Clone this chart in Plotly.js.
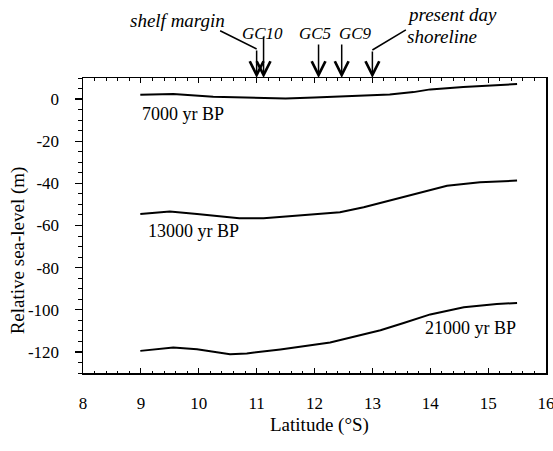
<!DOCTYPE html>
<html>
<head>
<meta charset="utf-8">
<script src="https://cdn.plot.ly/plotly-3.0.1.min.js"></script>
<style>html,body{margin:0;padding:0;background:#fff;}#chart{width:553px;height:451px;}</style>
</head>
<body>
<div id="chart"></div>
<script>
// Data
const lat7000 = [8.99, 9.56, 10.25, 11.1, 11.5, 12.0, 12.84, 13.3, 13.71, 14.0, 14.57, 15.0, 15.5];
const sl7000  = [2.0, 2.4, 1.1, 0.4, 0.3, 0.8, 1.6, 2.2, 3.3, 4.6, 5.7, 6.3, 7.1];
const lat13000 = [8.99, 9.5, 9.97, 10.48, 10.7, 11.12, 11.69, 12.44, 12.85, 13.42, 14.0, 14.29, 14.86, 15.5];
const sl13000  = [-54.5, -53.4, -54.5, -56.0, -56.5, -56.5, -55.3, -53.7, -51.3, -47.3, -43.4, -41.1, -39.5, -38.7];
const lat21000 = [8.99, 9.56, 9.97, 10.54, 10.83, 11.41, 12.27, 13.14, 13.54, 14.0, 14.58, 15.15, 15.5];
const sl21000  = [-119.5, -117.9, -118.7, -121.1, -120.7, -118.8, -115.5, -109.7, -106.3, -102.2, -98.8, -97.2, -96.8];
const seriesNames = ['7000 yr BP', '13000 yr BP', '21000 yr BP'];
const markerNames = ['shelf margin', 'GC10', 'GC5', 'GC9', 'present day', 'shoreline'];
const markerLat = [11.0, 11.12, 12.07, 12.47, 13.0];
const xTicks = [8, 9, 10, 11, 12, 13, 14, 15, 16];
const yTicks = [0, -20, -40, -60, -80, -100, -120];

const FONT = 'Liberation Serif';
const line = {color: '#000', width: 2};
const traces = [
  {x: lat7000, y: sl7000, mode: 'lines', line: line, name: seriesNames[0]},
  {x: lat13000, y: sl13000, mode: 'lines', line: line, name: seriesNames[1]},
  {x: lat21000, y: sl21000, mode: 'lines', line: line, name: seriesNames[2]}
];

const itFont = {family: FONT, size: 19, color: '#000', style: 'italic'};
const gcFont = {family: FONT, size: 17, color: '#000', style: 'italic'};
const upFont = {family: FONT, size: 18, color: '#000'};
const arrowBase = {xref: 'x', yref: 'y', y: 10, showarrow: true, arrowhead: 5, arrowwidth: 1.5, arrowsize: 1.8, arrowcolor: '#000', text: '', axref: 'pixel', ayref: 'pixel', ax: 0, standoff: 0, startstandoff: 0};
const segBase = {xref: 'x', yref: 'y', y: 10, showarrow: true, arrowhead: 0, arrowwidth: 1.5, arrowcolor: '#000', text: '', standoff: 0, startstandoff: 0};
const lab = {showarrow: false, xanchor: 'center', yanchor: 'middle'};

const annotations = [
  // arrows
  Object.assign({}, arrowBase, {x: markerLat[0], ay: -29}),
  Object.assign({}, segBase, {x: markerLat[0], yshift: 29, ax: -38, ay: -19}),
  Object.assign({}, arrowBase, {x: markerLat[1], ay: -43}),
  Object.assign({}, arrowBase, {x: markerLat[2], ay: -35}),
  Object.assign({}, arrowBase, {x: markerLat[3], ay: -35}),
  Object.assign({}, arrowBase, {x: markerLat[4], ay: -28}),
  Object.assign({}, segBase, {x: markerLat[4], yshift: 28, ax: 35, ay: -21}),
  // marker labels
  Object.assign({}, lab, {xref: 'x', yref: 'paper', x: 9.64, y: 1.195, text: markerNames[0], font: itFont}),
  Object.assign({}, lab, {xref: 'x', yref: 'paper', x: 11.11, y: 1.151, text: markerNames[1], font: gcFont}),
  Object.assign({}, lab, {xref: 'x', yref: 'paper', x: 12.0, y: 1.151, text: markerNames[2], font: gcFont}),
  Object.assign({}, lab, {xref: 'x', yref: 'paper', x: 12.7, y: 1.151, text: markerNames[3], font: gcFont}),
  Object.assign({}, lab, {xref: 'x', yref: 'paper', x: 14.37, y: 1.216, text: markerNames[4], font: itFont}),
  Object.assign({}, lab, {xref: 'x', yref: 'paper', x: 14.2, y: 1.139, text: markerNames[5], font: itFont}),
  // series labels
  Object.assign({}, lab, {xref: 'x', yref: 'y', x: 8.99, y: -7.0, xanchor: 'left', text: seriesNames[0], font: upFont}),
  Object.assign({}, lab, {xref: 'x', yref: 'y', x: 9.08, y: -62.8, xanchor: 'left', text: seriesNames[1], font: upFont}),
  Object.assign({}, lab, {xref: 'x', yref: 'y', x: 15.52, y: -108.5, xanchor: 'right', text: seriesNames[2], font: upFont}),
  // axis titles
  Object.assign({}, lab, {xref: 'paper', yref: 'paper', x: 0.51, y: -0.177, text: 'Latitude (°S)', font: Object.assign({}, upFont, {size: 19})}),
  Object.assign({}, lab, {xref: 'paper', yref: 'paper', x: -0.1405, y: 0.4157, text: 'Relative sea-level (m)', textangle: -90, font: Object.assign({}, upFont, {size: 19})})
];

const layout = {
  width: 553, height: 451,
  margin: {l: 83, r: 7, t: 78, b: 78, pad: 0},
  paper_bgcolor: '#fff', plot_bgcolor: '#fff',
  showlegend: false,
  font: {family: FONT, size: 17, color: '#000'},
  xaxis: {
    range: [8, 16], tickvals: xTicks, ticktext: xTicks.map(String),
    showgrid: false, zeroline: false,
    showline: true, linecolor: '#000', linewidth: 1.5, mirror: 'ticks',
    ticks: 'inside', ticklen: 5, tickwidth: 1.2, tickcolor: '#000',
    ticklabelstandoff: 14, ticklabeloverflow: 'allow',
    minor: {dtick: 0.2, tick0: 8, ticks: 'inside', ticklen: 2.5, tickwidth: 1, tickcolor: '#000', showgrid: false},
    tickfont: {family: FONT, size: 17, color: '#000'}
  },
  yaxis: {
    range: [-130, 10], tickvals: yTicks, ticktext: yTicks.map(String),
    showgrid: false, zeroline: false,
    showline: true, linecolor: '#000', linewidth: 1.5, mirror: true,
    ticks: 'outside', ticklen: 7, tickwidth: 1.2, tickcolor: '#000',
    ticklabelstandoff: 12, ticklabeloverflow: 'allow',
    minor: {dtick: 5, tick0: 0, ticks: 'outside', ticklen: 4, tickwidth: 1, tickcolor: '#000', showgrid: false},
    tickfont: {family: FONT, size: 17, color: '#000'}
  },
  annotations: annotations
};

Plotly.newPlot('chart', traces, layout, {staticPlot: true, displayModeBar: false});
</script>
</body>
</html>
